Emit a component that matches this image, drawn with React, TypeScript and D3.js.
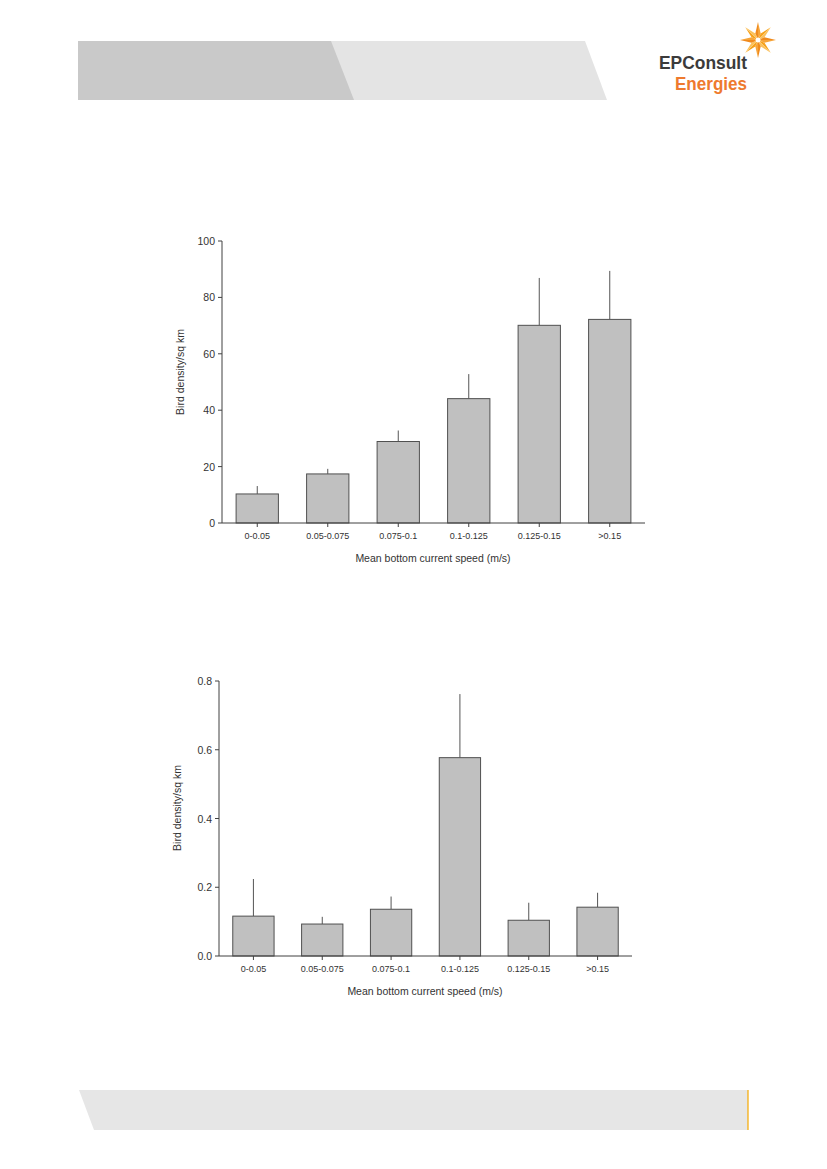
import * as d3 from "d3";

const speedBins = ["0-0.05", "0.05-0.075", "0.075-0.1", "0.1-0.125", "0.125-0.15", ">0.15"];

// top chart
const densityTop = [10.3, 17.4, 28.9, 44.1, 70.1, 72.2];
const upperTop = [13.1, 19.2, 32.8, 52.8, 86.9, 89.4];
const ticksTop = [0, 20, 40, 60, 80, 100];

// bottom chart
const densityBottom = [0.116, 0.093, 0.136, 0.577, 0.104, 0.142];
const upperBottom = [0.224, 0.114, 0.173, 0.762, 0.155, 0.184];
const ticksBottom = [0, 0.2, 0.4, 0.6, 0.8];

const xTitle = "Mean bottom current speed (m/s)";
const yTitle = "Bird density/sq km";

const FONT = "'Liberation Sans', Arial, sans-serif";
const AXIS = "#404040";

interface ChartProps {
  left: number;
  right: number;
  top: number;
  bottom: number;
  values: number[];
  upper: number[];
  ticks: number[];
  yMax: number;
  fmt: (v: number) => string;
  yTitleX: number;
  yTitleY: number;
  xTitleX: number;
}

function BarChart(p: ChartProps) {
  const x = d3.scaleBand<string>().domain(speedBins).range([p.left, p.right]).paddingInner(0.4).paddingOuter(0.2);
  const y = d3.scaleLinear().domain([0, p.yMax]).range([p.bottom, p.top]);
  return (
    <g fontFamily={FONT}>
      {speedBins.map((c, i) => (
        <g key={c}>
          <line
            x1={x(c)! + x.bandwidth() / 2}
            x2={x(c)! + x.bandwidth() / 2}
            y1={y(p.values[i])}
            y2={y(p.upper[i])}
            stroke="#555"
            strokeWidth={1}
          />
          <rect
            x={x(c)!}
            y={y(p.values[i])}
            width={x.bandwidth()}
            height={p.bottom - y(p.values[i])}
            fill="#c0c0c0"
            stroke="#505050"
            strokeWidth={1}
          />
          <line
            x1={x(c)! + x.bandwidth() / 2}
            x2={x(c)! + x.bandwidth() / 2}
            y1={p.bottom}
            y2={p.bottom + 4}
            stroke={AXIS}
          />
          <text
            x={x(c)! + x.bandwidth() / 2}
            y={p.bottom + 16}
            textAnchor="middle"
            fontSize={9}
            fill="#333"
          >
            {c}
          </text>
        </g>
      ))}
      <line x1={p.left} x2={p.right} y1={p.bottom} y2={p.bottom} stroke={AXIS} />
      <line x1={p.left} x2={p.left} y1={p.top} y2={p.bottom} stroke={AXIS} />
      {p.ticks.map((t) => (
        <g key={t}>
          <line x1={p.left - 4} x2={p.left} y1={y(t)} y2={y(t)} stroke={AXIS} />
          <text x={p.left - 7} y={y(t) + 4} textAnchor="end" fontSize={10.5} fill="#333">
            {p.fmt(t)}
          </text>
        </g>
      ))}
      <text
        transform={`translate(${p.yTitleX},${p.yTitleY}) rotate(-90)`}
        textAnchor="middle"
        dy="0.35em"
        fontSize={10.5}
        fill="#333"
      >
        {yTitle}
      </text>
      <text x={p.xTitleX} y={p.bottom + 39} textAnchor="middle" fontSize={10.5} fill="#333">
        {xTitle}
      </text>
    </g>
  );
}

function Logo() {
  const cx = 758;
  const cy = 40;
  const R = 18;
  const r = 7;
  const rays = d3.range(8);
  const pt = (a: number, rad: number) => [cx + rad * Math.sin(a), cy - rad * Math.cos(a)];
  return (
    <g>
      {rays.map((i) => {
        const a = (i * Math.PI) / 4;
        const tip = pt(a, R);
        const l = pt(a - Math.PI / 8, r);
        const rr = pt(a + Math.PI / 8, r);
        return (
          <g key={i}>
            <polygon points={`${cx},${cy} ${l[0]},${l[1]} ${tip[0]},${tip[1]}`} fill={i % 2 ? "#f7a21b" : "#f08a1c"} />
            <polygon points={`${cx},${cy} ${tip[0]},${tip[1]} ${rr[0]},${rr[1]}`} fill={i % 2 ? "#fbc15a" : "#f6a43a"} />
          </g>
        );
      })}
      <circle cx={cx} cy={cy} r={2.5} fill="#fff" />
      <text
        x={659}
        y={69}
        fontFamily="'Liberation Sans', sans-serif"
        fontSize={18}
        fontWeight={700}
        fill="#3b3b3b"
        textLength={88}
        lengthAdjust="spacingAndGlyphs"
      >
        EPConsult
      </text>
      <text
        x={675}
        y={89.5}
        fontFamily="'Liberation Sans', sans-serif"
        fontSize={18}
        fontWeight={700}
        fill="#ee7a2e"
        textLength={72}
        lengthAdjust="spacingAndGlyphs"
      >
        Energies
      </text>
    </g>
  );
}

export default function App() {
  return (
    <svg
      width={827}
      height={1169}
      style={{ position: "absolute", left: 0, top: 0, background: "#fff" }}
    >
      {/* header bands */}
      <polygon points="78,41 585,41 607,100 78,100" fill="#e4e4e4" />
      <polygon points="78,41 331,41 354,100 78,100" fill="#c9c9c9" />
      <Logo />

      <BarChart
        left={222}
        right={645}
        top={241}
        bottom={523}
        values={densityTop}
        upper={upperTop}
        ticks={ticksTop}
        yMax={100}
        fmt={(v) => String(v)}
        yTitleX={180}
        yTitleY={372}
        xTitleX={433}
      />

      <BarChart
        left={219}
        right={632}
        top={681}
        bottom={956}
        values={densityBottom}
        upper={upperBottom}
        ticks={ticksBottom}
        yMax={0.8}
        fmt={(v) => v.toFixed(1)}
        yTitleX={177}
        yTitleY={808}
        xTitleX={425}
      />

      {/* footer band */}
      <polygon points="79,1090 748,1090 748,1130 94,1130" fill="#e6e6e6" />
      <line x1={748} x2={748} y1={1090} y2={1130} stroke="#f5a800" strokeWidth={1.2} />
    </svg>
  );
}
